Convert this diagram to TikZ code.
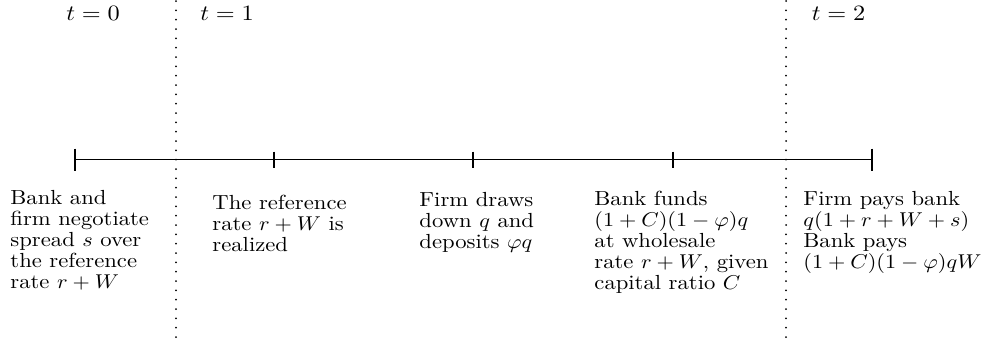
\documentclass[tikz,border=0pt]{standalone}
\newcommand\evfont{\fontsize{10.2}{10.45}\selectfont\lineskiplimit=-20pt\relax}
\newcommand\labfont{\fontsize{10.6}{12}\selectfont}
\begin{document}
\begin{tikzpicture}[x=0.45pt,y=-0.45pt,
  txt/.style={anchor=north west, inner sep=0pt, align=left, font=\evfont, yscale=0.9, transform shape},
  lab/.style={anchor=base west, inner sep=0pt, font=\labfont, yscale=0.9, transform shape},
  axis/.style={line width=0.85pt},
  sep/.style={line width=0.9pt, dash pattern=on 0pt off 4.2pt, line cap=round}]
\useasboundingbox (0,0) rectangle (987,351);
% timeline
\coordinate (T0) at (75,159.5);
\coordinate (T1) at (274,159.5);
\coordinate (T2) at (473,159.5);
\coordinate (T3) at (673,159.5);
\coordinate (T4) at (872,159.5);
\draw[axis] (T0) -- (T4);
\draw[axis] (T0) ++(0,-11) -- ++(0,22);
\draw[axis] (T4) ++(0,-11) -- ++(0,22);
\draw[axis] (T1) ++(0,-8) -- ++(0,16);
\draw[axis] (T2) ++(0,-8) -- ++(0,16);
\draw[axis] (T3) ++(0,-8) -- ++(0,16);
% period separators
\coordinate (D1a) at (176,1);
\coordinate (D1b) at (176,341);
\coordinate (D2a) at (786,1);
\coordinate (D2b) at (786,341);
\draw[sep] (D1a) -- (D1b);
\draw[sep] (D2a) -- (D2b);
% period labels
\node[lab] (L0) at (66,20.5) {$t=0$};
\node[lab] (L1) at (200,20.5) {$t=1$};
\node[lab] (L2) at (811.5,20.5) {$t=2$};
% event texts
\node[txt] (E0) at (10,190.1) {Bank and\\firm negotiate\\spread $s$ over\\the reference\\rate $r+W$};
\node[txt] (E1) at (212,194.8) {The reference\\rate $r+W$ is\\realized};
\node[txt] (E2) at (419,191.8) {Firm draws\\down $q$ and\\deposits $\varphi q$};
\node[txt] (E3) at (594,190.8) {Bank funds\\$(1+C)(1-\varphi)q$\\at wholesale\\rate $r+W$, given\\capital ratio $C$};
\node[txt] (E4) at (803,190.8) {Firm pays bank\\$q(1+r+W+s)$\\Bank pays\\$(1+C)(1-\varphi)qW$};
\end{tikzpicture}
\end{document}
